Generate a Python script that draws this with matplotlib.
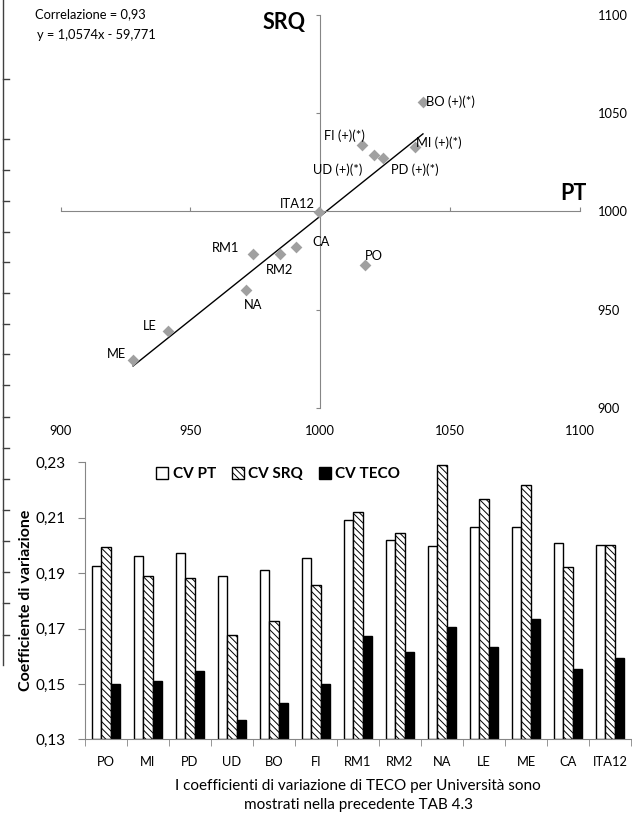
import matplotlib.pyplot as plt
from matplotlib.lines import Line2D
import numpy as np

plt.rcParams['font.family'] = ['Lato', 'DejaVu Sans']
plt.rcParams['hatch.linewidth'] = 0.7

# dati dispersione PT / SRQ
atenei = ['BO (+)(*)', 'MI (+)(*)', 'FI (+)(*)', 'UD (+)(*)', 'PD (+)(*)', 'ITA12',
          'CA', 'PO', 'RM1', 'RM2', 'NA', 'LE', 'ME']
pt = [1039.6, 1036.4, 1016.1, 1020.6, 1024.2, 999.5, 990.7, 1017.4, 974.2, 984.4, 971.4, 941.2, 927.9]
srq = [1055.8, 1032.9, 1033.6, 1028.5, 1027.0, 999.8, 981.8, 972.7, 978.5, 978.5, 960.0, 939.0, 924.4]
pendenza = 1.0574
intercetta = -59.771
assi_tick = [900, 950, 1000, 1050, 1100]

# dati coefficienti di variazione
categorie = ['PO', 'MI', 'PD', 'UD', 'BO', 'FI', 'RM1', 'RM2', 'NA', 'LE', 'ME', 'CA', 'ITA12']
cv_pt = [0.1927, 0.1963, 0.1973, 0.1890, 0.1910, 0.1956, 0.2091, 0.2019, 0.1997, 0.2065, 0.2065, 0.2009, 0.2001]
cv_srq = [0.1995, 0.1891, 0.1881, 0.1677, 0.1728, 0.1857, 0.2122, 0.2044, 0.2290, 0.2168, 0.2218, 0.1922, 0.2001]
cv_teco = [0.1499, 0.1512, 0.1548, 0.1370, 0.1432, 0.1499, 0.1673, 0.1615, 0.1705, 0.1632, 0.1733, 0.1553, 0.1592]
cv_tick = [0.13, 0.15, 0.17, 0.19, 0.21, 0.23]

GRIGIO = '#868686'
W, H = 632, 817

fig = plt.figure(figsize=(W / 100, H / 100), dpi=100)


def px(x, y):
    return x / W, 1 - y / H


# pezzo di asse tagliato sul bordo sinistro
fig.add_artist(Line2D([3 / W, 3 / W], [1, 1 - 665 / H], color='#404040', lw=1))
for yy in [79, 139, 170, 201, 232, 262, 293, 324, 354, 385, 417, 448, 479, 510, 541, 572, 603, 635]:
    fig.add_artist(Line2D([3 / W, 9 / W], [1 - yy / H] * 2, color='#404040', lw=1))

# --- grafico a dispersione ---
ax1 = fig.add_axes([60.7 / W, 1 - 408 / H, 519 / W, 393 / H])
ax1.set_xlim(900, 1100)
ax1.set_ylim(900, 1100)
ax1.patch.set_alpha(0)
ax1.spines['left'].set_position(('data', 1000))
ax1.spines['top'].set_position(('data', 1000))
ax1.spines['right'].set_visible(False)
ax1.spines['bottom'].set_visible(False)
for s in ['left', 'top']:
    ax1.spines[s].set_color(GRIGIO)
ax1.set_xticks(assi_tick)
ax1.set_yticks(assi_tick)
ax1.tick_params(axis='x', top=True, bottom=False, labeltop=False, labelbottom=True,
                direction='out', length=3, color=GRIGIO, labelsize=9.3, pad=9)
ax1.tick_params(axis='y', left=True, right=False, labelleft=False, labelright=True,
                direction='out', length=3, color=GRIGIO, labelsize=9.3, pad=10)

xr = np.array([min(pt), max(pt)])
ax1.plot(xr, pendenza * xr + intercetta, color='black', lw=1, zorder=2)
ax1.scatter(pt, srq, marker='D', s=36, color='#a0a0a0', zorder=3, linewidths=0)

offset = {
    'BO (+)(*)': (3, 0, 'left'), 'MI (+)(*)': (1, 4, 'left'), 'FI (+)(*)': (-18, 9.5, 'center'),
    'UD (+)(*)': (-36, -14, 'center'), 'PD (+)(*)': (32, -11, 'center'), 'ITA12': (-4, 8, 'right'),
    'CA': (16, 5, 'left'), 'PO': (9, 9, 'center'), 'RM1': (-14, 6, 'right'), 'RM2': (0, -16, 'center'),
    'NA': (7, -15, 'center'), 'LE': (-11, 5, 'right'), 'ME': (-7, 6, 'right'),
}
for nome, x, y in zip(atenei, pt, srq):
    dx, dy, ha = offset[nome]
    ax1.annotate(nome, (x, y), xytext=(dx, dy), textcoords='offset pixels',
                 ha=ha, va='center', fontsize=9.3)

fig.text(*px(35, 14), 'Correlazione = 0,93', fontsize=9.3, va='center', ha='left')
fig.text(*px(37, 35), 'y = 1,0574x - 59,771', fontsize=9.3, va='center', ha='left')
fig.text(*px(284, 23), 'SRQ', fontsize=15.5, fontweight='bold', va='center', ha='center')
fig.text(*px(573, 194), 'PT', fontsize=15.5, fontweight='bold', va='center', ha='center')

# --- grafico a barre ---
ax2 = fig.add_axes([85 / W, 1 - 739.3 / H, 546 / W, 277 / H])
x = np.arange(len(categorie))
w = 0.219
ax2.bar(x - w, np.array(cv_pt) - 0.13, w, bottom=0.13, color='white', edgecolor='black', lw=1, label='CV PT')
ax2.bar(x, np.array(cv_srq) - 0.13, w, bottom=0.13, color='white', edgecolor='black', lw=1,
        hatch='\\\\\\\\\\', label='CV SRQ')
ax2.bar(x + w, np.array(cv_teco) - 0.13, w, bottom=0.13, color='black', edgecolor='black', lw=1, label='CV TECO')
ax2.set_xlim(-0.5, len(categorie) - 0.5)
ax2.set_ylim(0.13, 0.23)
for s in ['top', 'right']:
    ax2.spines[s].set_visible(False)
for s in ['left', 'bottom']:
    ax2.spines[s].set_color(GRIGIO)
ax2.set_yticks(cv_tick)
ax2.set_yticklabels([f'{v:.2f}'.replace('.', ',') for v in cv_tick])
ax2.set_xticks(x)
ax2.set_xticklabels(categorie)
ax2.set_xticks(np.arange(len(categorie) + 1) - 0.5, minor=True)
ax2.tick_params(axis='x', which='major', length=0, labelsize=9.3, pad=12)
ax2.tick_params(axis='x', which='minor', length=5, color=GRIGIO)
ax2.tick_params(axis='y', length=5, color=GRIGIO, labelsize=11, pad=9)
ax2.set_ylabel('Coefficiente di variazione', fontsize=11.5, fontweight='bold', labelpad=2)
ax2.set_xlabel('I coefficienti di variazione di TECO per Università sono\nmostrati nella precedente TAB 4.3',
               fontsize=11, labelpad=8, linespacing=1.45)
ax2.legend(loc='center', bbox_to_anchor=(0.354, 0.958), ncol=3, frameon=False,
           prop={'weight': 'bold', 'size': 11}, handlelength=0.8, handleheight=0.8,
           handletextpad=0.3, columnspacing=1.0)

fig.savefig('out.png', dpi=100)
